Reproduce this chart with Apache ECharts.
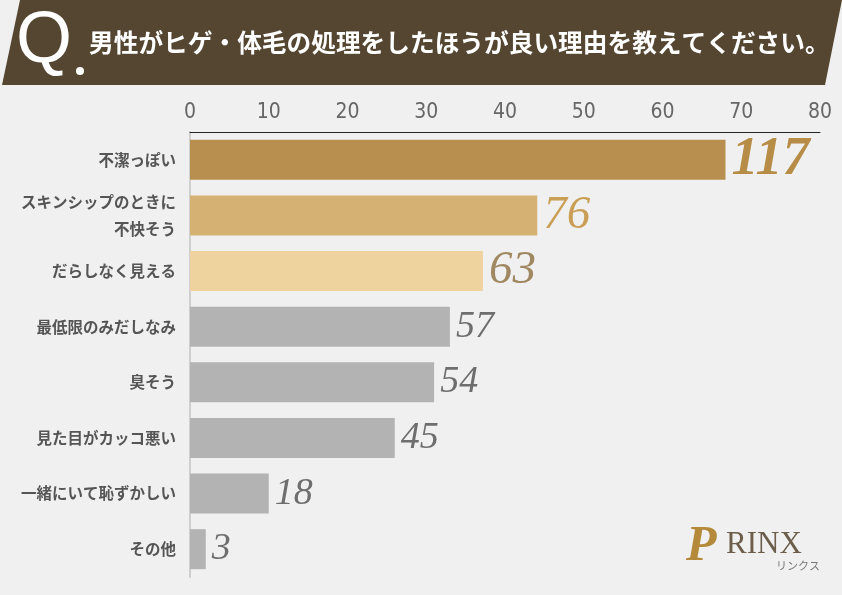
<!DOCTYPE html>
<html>
<head>
<meta charset="utf-8">
<script src="https://cdn.jsdelivr.net/npm/echarts@6/dist/echarts.min.js"></script>
<style>
  html, body { margin: 0; padding: 0; background: #f0f0f0; }
  #main { width: 842px; height: 595px; }
</style>
</head>
<body>
<div id="main"></div>
<script>
// 項目
const categories = ['不潔っぽい', 'スキンシップのときに\n不快そう', 'だらしなく見える', '最低限のみだしなみ', '臭そう', '見た目がカッコ悪い', '一緒にいて恥ずかしい', 'その他'];
// 回答数（ラベル）
const counts = [117, 76, 63, 57, 54, 45, 18, 3];
// 棒の長さ（目盛り上の値）
const percents = [68.0, 44.1, 37.2, 33.0, 31.0, 26.0, 10.0, 2.0];
const axisTicks = [0, 10, 20, 30, 40, 50, 60, 70, 80];

const barColors = ['#b88f4e', '#d6b174', '#eed39f', '#b4b3b3', '#b4b3b3', '#b4b3b3', '#b4b3b3', '#b4b3b3'];
const labelColors = ['#b68c46', '#c99f56', '#9f8862', '#6e6e6e', '#6e6e6e', '#6e6e6e', '#6e6e6e', '#6e6e6e'];
const labelSizes = [54, 47, 47, 38, 38, 38, 38, 38];

let chart = echarts.init(document.getElementById('main'));

let option = {
  backgroundColor: '#f0f0f0',
  animation: false,
  grid: {
    left: 190,
    right: 22,
    top: 132,
    bottom: 18
  },
  xAxis: {
    type: 'value',
    position: 'top',
    min: axisTicks[0],
    max: axisTicks[axisTicks.length - 1],
    interval: 10,
    axisLine: { show: true, lineStyle: { color: '#222', width: 1 } },
    axisTick: { show: false },
    splitLine: { show: false },
    axisLabel: {
      margin: 9,
      color: '#666',
      fontSize: 21,
      fontFamily: '"DejaVu Sans Condensed", Roboto, sans-serif'
    }
  },
  yAxis: {
    type: 'category',
    inverse: true,
    data: categories,
    axisLine: { show: true, lineStyle: { color: '#cfcfcf', width: 2 } },
    axisTick: { show: false },
    axisLabel: {
      margin: 14,
      color: '#555',
      fontSize: 15.5,
      fontWeight: 'bold',
      lineHeight: 27,
      fontFamily: 'Noto Sans CJK JP'
    }
  },
  series: [
    {
      type: 'bar',
      barWidth: 40,
      data: percents.map((v, i) => ({
        value: v,
        itemStyle: { color: barColors[i] },
        label: {
          show: true,
          position: 'right',
          distance: 6,
          formatter: String(counts[i]),
          color: labelColors[i],
          fontSize: labelSizes[i],
          fontStyle: 'italic',
          fontWeight: i === 0 ? 'bold' : 'normal',
          fontFamily: 'Liberation Serif'
        }
      }))
    }
  ],
  graphic: [
    {
      type: 'polygon',
      shape: { points: [[20, 0], [842, 0], [825, 85], [2, 85]] },
      style: { fill: '#554632' }
    },
    {
      type: 'text',
      left: 16,
      top: 6,
      style: {
        text: 'Q',
        fill: '#fff',
        font: '72px "Liberation Sans"'
      }
    },
    {
      type: 'circle',
      shape: { cx: 80, cy: 71, r: 4 },
      style: { fill: '#fff' }
    },
    {
      type: 'text',
      left: 89,
      top: 30,
      style: {
        text: '男性がヒゲ・体毛の処理をしたほうが良い理由を教えてください。',
        fill: '#fff',
        font: 'bold 24.7px "Noto Sans CJK JP"'
      }
    },
    {
      type: 'text',
      left: 686,
      top: 522,
      style: {
        text: 'P',
        fill: '#b48a3a',
        font: 'italic bold 50px "Liberation Serif"'
      }
    },
    {
      type: 'text',
      left: 726,
      top: 529,
      style: {
        text: 'RINX',
        fill: '#6c5e4b',
        font: '31px "Liberation Serif"'
      }
    },
    {
      type: 'text',
      left: 776,
      top: 560,
      style: {
        text: 'リンクス',
        fill: '#777',
        font: '11px "Noto Sans CJK JP"'
      }
    }
  ]
};

chart.setOption(option);
</script>
</body>
</html>
